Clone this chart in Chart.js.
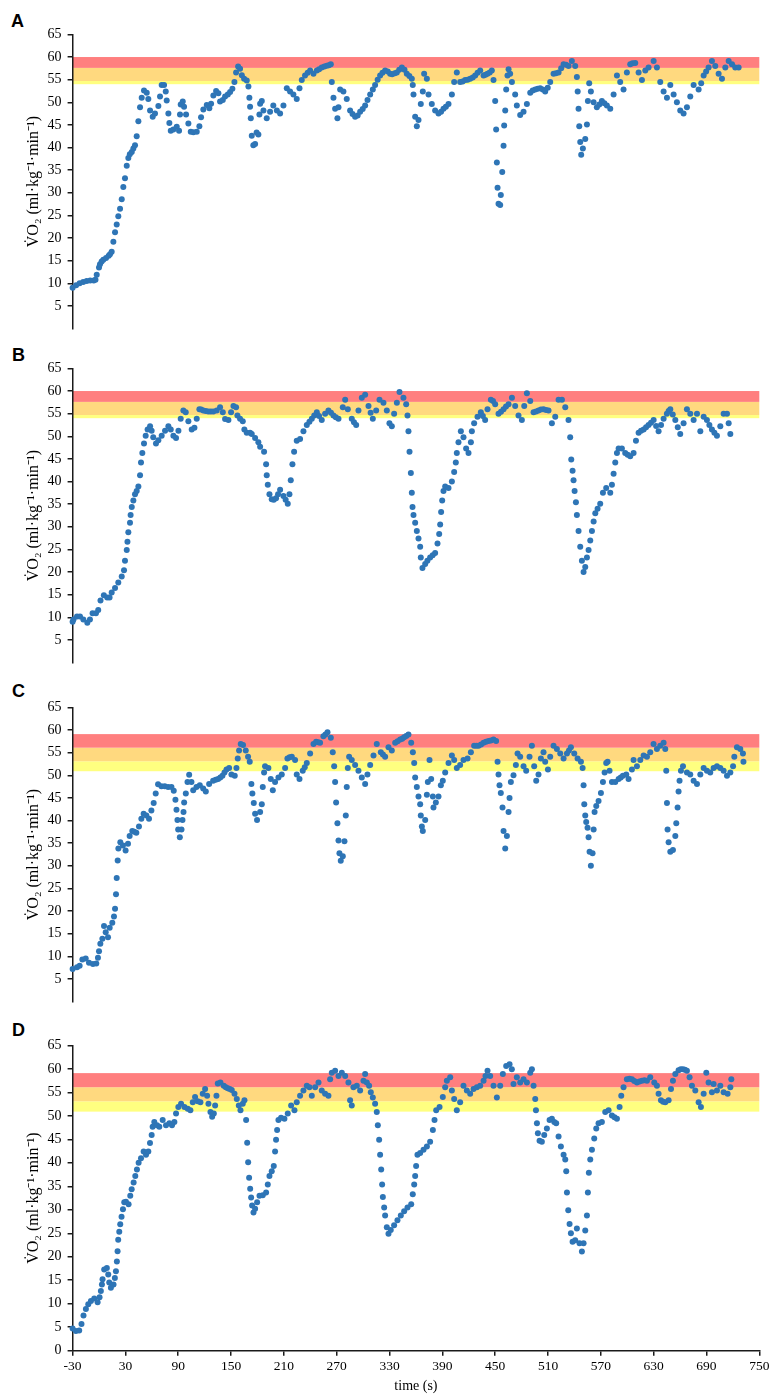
<!DOCTYPE html>
<html>
<head>
<meta charset="utf-8">
<script src="https://cdn.jsdelivr.net/npm/chart.js@4.4.1/dist/chart.umd.min.js"></script>
<style>
  html, body { margin:0; padding:0; background:#fff; }
  body { width:774px; height:1396px; position:relative; overflow:hidden; }
  canvas { position:absolute; left:0; }
  .lbl { position:absolute; font-family:"Liberation Sans", Arial, sans-serif; font-weight:bold; font-size:18px; line-height:18px; color:#000; }
</style>
</head>
<body>
<div class="lbl" style="left:11px; top:12px;">A</div>
<div class="lbl" style="left:12px; top:346px;">B</div>
<div class="lbl" style="left:12px; top:682px;">C</div>
<div class="lbl" style="left:12px; top:1021px;">D</div>
<canvas id="cA" width="774" height="323" style="top:20px"></canvas>
<canvas id="cB" width="774" height="323" style="top:354px"></canvas>
<canvas id="cC" width="774" height="323" style="top:693px"></canvas>
<canvas id="cD" width="774" height="365" style="top:1031px"></canvas>
<script>
// ---------- data (time in s, VO2 in ml·kg-1·min-1) ----------
const xTicks = [-30, 30, 90, 150, 210, 270, 330, 390, 450, 510, 570, 630, 690, 750];
const yTicks = [5, 10, 15, 20, 25, 30, 35, 40, 45, 50, 55, 60, 65];
const yTicksD = [0, 5, 10, 15, 20, 25, 30, 35, 40, 45, 50, 55, 60, 65];
// band edges: yellow bottom, orange bottom, red bottom, red top
const bandsAB = [54.0, 54.7, 57.6, 60.0];
const bandsCD = [50.9, 53.1, 56.1, 59.1];

const tA = [
-30,-26,-22,-18,-14,-10,-6,-4,-2.6,0,1.1,3,4.9,8,11,12.5,14.4,16.3,18.2,20.1,21.9,23.9,25.8,27.6,29.5,31.5,33.3,35,37.2,39,40.9,42.8,44.7,46.6,48.5,51.1,54.2,56,58,
61,63.6,67.4,69.3,71.2,73.9,75.8,76.9,78.8,79.9,81.5,84.5,88.3,90.9,92,92.8,95.1,96.6,98.9,101.5,104.2,107.2,111,114,115.9,118.5,122.4,125.3,127.3,129.9,133,135.6,137.5,140.6,143.2,146.3,148.9,151.5,153.8,155.7,158,160.2,162.2,164.8,167.8,169.7,170.8,171.6,172.4,173.5,175.3,177.3,179,181,182.2,183,
184.9,186.8,190.5,194.3,198,202,205.7,209.5,213.3,217,220.8,224.6,227.7,230.3,234,237,239.8,243.6,247.4,250,253,256,258.7,261,263.3,264.4,266.3,268.2,270.8,272,273.9,277.6,281.4,285.2,288,290.9,293.8,296.6,299.5,302.3,305,308,311,313.6,316.5,319.3,322,325,328,330.7,333,336,338.3,341,344,347,349.6,352.5,355.3,
356.4,357.2,359.1,361,362.9,365.5,367.8,369.3,372.4,374.3,378,381.8,385.6,388.5,391.3,394,397,400.8,403.4,406.4,410.2,413,415.9,418.7,421.6,424.5,427.3,430,433,436.8,439,441.3,443.8,446.2,448.1,
450,451.1,451.9,452.7,453.8,455.7,456.4,458,459.5,460.2,461.4,462.5,464,465.2,467,469,472.7,474.6,478.4,482.2,486,489.8,492.6,495.5,498.3,501.1,504,506.8,509.7,512.5,516.3,519,522,525,527.7,530.5,533.3,537.1,540.9,
542.8,543.7,544.7,545.5,546.6,547.7,549.6,552.3,554.2,555.3,556.8,558.7,561.8,565.5,568.3,571.2,574,576.9,580.7,584.5,588.3,592,595.8,599.6,603.4,606,609.1,612.9,616.7,620.5,624.2,630,633.7,637.5,641.3,645.1,648.9,652.7,656.4,660.2,664,667.8,671.6,675.4,681.1,684,686.8,689.6,692.4,696.2,700,703.8,707.6,711.4,715.2,719,722.7,726.5];
const vA = [
9.0,9.6,10.0,10.3,10.5,10.6,10.6,10.8,11.9,13.5,14.2,14.8,15.2,15.6,16.1,16.4,17.0,19.2,21.3,23.0,24.8,26.5,28.6,31.3,33.2,36.0,37.7,38.5,39.0,39.8,40.5,42.5,45.8,48.9,51.0,52.6,52.1,50.7,48.2,
46.8,47.5,49.2,51.3,53.8,53.8,52.4,50.4,47.5,45.4,43.7,44.0,44.6,43.7,47.3,49.5,50.2,49.0,47.3,45.3,43.5,43.4,43.5,44.7,46.7,48.4,49.4,48.7,49.7,51.5,52.5,52.0,50.2,50.5,51.3,51.7,52.3,53.0,54.5,56.6,57.9,57.4,56.0,55.2,54.8,53.5,51.0,49.0,46.5,42.6,40.5,40.8,43.3,42.9,47.3,49.7,
50.3,48.2,46.5,47.9,49.3,48.2,47.5,49.3,53.1,52.4,51.7,50.7,53.1,54.9,55.9,56.5,57.0,56.3,57.0,57.3,57.7,57.9,58.1,58.2,58.4,54.5,51.0,48.6,46.5,48.9,52.8,52.4,50.7,48.2,47.4,46.8,47.1,47.9,48.5,49.3,50.5,51.7,52.8,53.8,55.0,55.9,56.5,57.0,56.8,56.3,56.2,56.4,56.6,57.2,57.7,57.2,56.3,55.8,55.2,
53.8,51.7,46.8,44.7,46.1,49.6,52.4,56.3,55.2,51.7,49.6,48.2,47.5,47.9,48.6,49.0,49.6,51.7,54.5,56.6,54.5,54.6,54.9,55.0,55.2,55.5,55.9,56.5,57.0,55.9,56.1,56.3,56.6,57.0,54.9,
50.3,44.0,36.7,31.1,27.6,27.3,29.5,34.6,40.4,44.9,48.2,52.8,55.9,57.3,56.3,54.5,51.7,49.3,47.2,47.9,49.6,52.1,52.6,52.8,53.0,53.1,52.8,52.4,53.2,54.5,56.3,56.4,56.6,57.5,58.4,58.3,58.0,59.1,58.0,
55.6,52.4,48.6,44.7,41.2,38.4,39.8,41.9,45.1,50.3,54.2,52.4,50.0,48.9,49.5,50.3,49.8,49.3,48.6,51.7,55.9,54.5,52.8,56.6,58.4,58.6,58.7,56.6,54.9,57.0,57.7,59.1,57.7,54.5,52.4,51.0,53.8,51.7,50.0,48.2,47.5,48.9,51.3,53.8,52.8,54.2,55.9,56.8,57.7,59.1,58.0,56.3,55.2,57.7,59.1,58.4,57.7,57.7];

const tB = [
-30,-29,-25,-21.6,-17.8,-13.3,-10.3,-7.3,-3.5,-0.9,1.7,5.5,9.3,12,14.4,18.2,21.9,25.8,28.4,29.5,31.5,32.3,33.3,35.2,35.9,37.2,39,40.9,42.8,44.7,46.6,47.7,49.2,51.1,53,55.2,58,
59.8,61.6,64.7,67.4,71.2,75,78.8,81.5,84.5,87.5,90.2,92.8,95.8,98.5,101.5,105.3,108.4,111,114,116,118.5,121.3,124.2,127,129.9,133.7,137.5,140.6,143.2,147,150,152.7,155.7,157.2,160.2,163.3,165.1,167.8,171.6,173.5,177.3,181,183,187.5,
189.8,190.5,191.7,193.6,196.2,198.5,201.1,203.4,205.7,209.5,212,214.4,216.3,217.8,219.7,221.6,224.6,228.4,232.2,236,239,241.7,244.5,247.4,250,253,256.8,260.6,263.5,266.3,269,272,276.9,279.6,282.6,287.1,289.6,292.1,294.7,298.5,302.3,306.1,308.5,311,314.8,318.6,323.1,326.9,329.9,332.6,335.2,338.3,341.3,345.8,348.9,
350.4,351.5,352.7,354.2,355.3,356.1,357.2,359.1,361,362.9,364.8,365.5,367.4,370.5,373,376.1,379,381.8,384.5,386.4,387.5,388.6,389.8,391.3,393.2,397,400.8,403.4,405.3,406.4,408.3,411,414,417,419.7,422.4,423.5,426.1,429.9,433.7,436,438.6,441.3,445.1,447.5,450,453.8,456.6,459.5,462.3,465.2,469,472.7,476.5,480.3,483,486,489.8,493.6,496.4,499.2,502,504.9,507.8,510.6,514.4,518.2,522,525.8,529.6,
533.3,535.2,536.4,537.9,539,540.2,541.7,542.8,544.7,546.6,548.5,550.4,552.3,554.2,556.1,558,559.9,561.8,563.7,566.3,569.3,572.4,576.1,580.7,582.6,584.5,586.4,588.3,590.2,593.9,597.7,600.5,603.4,607.2,609.9,612.9,615.7,618.6,621.4,624.2,627,630,632.8,635.6,638.4,641.3,645,647,648.9,651.7,654.6,657.4,660.2,664,667.8,671.6,675.4,679.2,683,686.8,690.5,693.3,696.2,699,701.9,705.7,709.5,713.3,715.2,717.1];
const vB = [
9.0,9.5,10.2,10.2,9.5,8.8,9.5,10.9,10.9,11.6,13.7,14.9,14.4,14.4,15.5,16.5,17.7,19.0,20.4,22.5,24.9,26.7,28.8,30.9,32.6,34.4,35.8,37.2,37.9,38.9,41.4,44.2,46.3,48.4,50.1,51.5,52.2,
51.2,49.8,48.4,49.1,50.1,51.2,52.2,51.5,50.1,49.6,51.2,53.9,55.7,55.3,53.3,51.5,51.9,53.9,56.0,55.9,55.7,55.6,55.5,55.5,55.5,55.7,56.4,55.3,53.8,53.6,55.3,56.7,56.4,54.6,53.9,53.3,51.5,50.8,50.8,50.5,49.6,48.7,47.7,46.6,
43.8,41.4,39.3,37.2,36.1,36.0,36.3,37.2,38.2,36.8,36.0,35.1,37.2,40.3,43.8,46.6,49.0,49.4,51.1,52.5,53.2,53.9,54.6,55.3,54.5,53.6,55.0,55.7,55.2,54.6,54.2,53.9,56.4,58.1,56.0,53.9,53.1,52.5,55.7,58.5,59.2,56.7,55.2,53.9,55.7,58.1,57.4,55.7,52.9,52.2,55.0,57.4,59.8,58.5,57.1,
54.6,51.1,46.6,41.9,37.5,34.4,32.6,30.9,29.1,27.4,25.6,23.2,20.9,21.8,22.5,23.2,23.7,24.2,26.3,28.4,30.5,33.3,35.8,37.9,38.9,38.6,40.0,42.1,44.2,46.3,48.7,51.1,49.8,47.3,46.3,48.7,51.1,52.9,54.3,55.3,54.5,53.6,56.0,58.1,57.8,57.1,55.0,55.4,56.0,56.6,57.1,58.5,56.7,54.6,53.6,56.7,59.5,57.8,55.3,55.5,55.7,55.9,56.0,55.8,55.7,52.9,54.3,58.1,58.1,56.4,
53.6,49.8,44.9,42.4,40.3,37.9,35.4,32.6,29.1,25.6,22.5,20.0,21.1,23.2,24.9,27.0,29.1,31.2,33.0,34.0,35.1,37.5,38.6,37.5,39.3,41.7,44.2,46.3,47.3,47.3,46.3,45.9,45.6,46.3,49.0,50.8,51.2,51.5,52.0,52.5,53.0,53.6,52.3,51.1,52.5,53.9,55.0,55.6,56.0,54.8,53.6,52.0,50.5,52.9,56.0,55.0,53.6,55.0,51.1,54.3,53.6,52.5,51.5,50.8,50.1,52.2,55.0,55.0,52.9,50.5];

const tC = [
-30,-25,-22,-18.9,-15.1,-11.4,-6.9,-3.1,-1.2,0,1.5,3.8,5.7,7.6,10.2,12.1,15.1,17,18.2,19.3,20.1,21.2,22,24.2,27.2,30.2,32.9,34.8,37.8,40,42.4,45.4,48.1,50.7,53.8,56.8,59.5,62.1,64.4,67.1,70.9,74.7,78.5,82.3,84.9,86.8,88,89.1,89.9,91.8,93.7,94.8,96,96.7,98.6,100.5,
102.4,105,107,110.7,114.5,118.3,121.3,125.1,129.6,132.5,135.3,137.8,140.2,142.5,144.8,147.8,150.4,154.2,156.1,157.6,159.1,161,163.6,166.7,169.3,171.2,173.1,174.2,175.8,177.3,179.5,183,184.9,186,187.5,188.6,192.4,195.1,197.4,200,203.8,207.6,211.4,214,216.5,219,222.7,224.6,227.7,231.4,233.7,236,239.8,243.6,246.6,248.9,251.1,254.9,257.2,259.5,263.3,
265.5,267.1,268.2,269.3,270.8,272,273.1,274.6,276.9,278.8,280.3,281.4,282.6,284.1,287.1,290.9,294.7,298.5,302.3,304.9,308,311.8,315.5,320.1,322.5,325,328.8,332.6,336.4,339.2,342.1,344.4,346.6,349,351.5,354.6,356.5,358,359.1,361,362.9,364.8,365.5,366.7,367.8,370.5,372.4,373.5,375.4,377.3,379.2,379.9,382.6,385.6,388.3,390.5,393.2,397,400.8,403.4,406.4,410.2,414,418.6,422.4,426.1,428.6,431.1,434,436.8,439.6,442.4,445.2,448.1,451.1,
452.7,453.8,454.9,456.4,458.3,459.5,461.4,463.3,465.2,466.3,467.8,470.8,473.5,475.4,478.4,482.2,485.2,489,491.7,494.3,496.6,499.2,501.9,504.9,506.8,509.9,512.5,516.3,520.1,523.9,527.7,531.5,533.8,536,539.8,543.6,547.4,549.3,550.4,551.2,552.3,553.4,554.9,556.1,557.2,558.7,560.6,561.8,562.9,564.8,567.4,570.1,572.4,574.3,576.1,577.7,579.9,582.6,586.4,590.2,592.6,595.1,598.9,601.5,605.3,607.2,611,614.8,618.6,622.4,626.1,629.9,633.7,637.5,641.3,643.2,
644.3,645.1,645.8,647,648.9,651.9,654.6,655.7,657.2,658.3,659.4,661,663.3,667.8,671.6,675.4,679.2,683,686.8,690.5,694.3,698.1,701.9,705.7,709.5,713.3,717.1,720.2,721.6,724.6,728.4,731.4,732];
const vC = [
7.2,7.6,7.9,9.3,9.5,8.6,8.3,8.4,9.7,11.1,12.8,13.9,16.7,15.3,14.2,16.3,17.4,18.8,20.5,23.7,27.3,31.2,33.8,35.2,34.5,33.4,34.9,36.6,37.7,37.5,37.3,38.7,40.4,41.5,41.1,40.4,42.2,43.9,46.0,48.0,47.6,47.6,47.4,47.4,46.6,44.6,42.4,40.1,38.0,36.3,38.0,40.1,41.9,44.0,46.0,48.5,
50.1,48.5,46.7,47.4,47.8,47.1,46.4,48.1,48.8,49.0,49.2,49.5,49.9,50.6,51.3,51.6,50.2,49.9,51.6,53.7,55.5,56.9,56.7,55.5,54.1,53.0,48.1,46.0,43.9,41.5,40.1,41.9,43.6,47.4,50.6,52.0,51.6,49.2,46.7,48.5,49.5,50.2,51.6,53.7,54.0,54.1,53.4,50.2,49.2,51.0,51.8,52.7,54.8,56.9,57.4,57.3,57.2,58.6,59.0,59.5,58.3,
55.1,52.0,48.5,44.0,39.4,35.6,32.8,31.1,32.1,35.4,41.1,47.4,51.6,54.1,53.4,52.3,51.0,49.5,48.1,50.2,52.3,54.4,56.9,55.1,54.6,54.1,56.2,55.5,57.2,57.5,57.9,58.1,58.4,58.7,59.0,57.2,55.1,52.7,49.5,47.4,45.3,43.6,41.1,38.7,37.7,40.1,45.7,48.5,53.4,49.2,45.3,42.9,44.0,45.3,47.8,48.8,50.6,52.7,54.4,53.4,51.6,52.3,53.4,53.7,55.1,56.5,56.5,56.5,56.8,57.2,57.4,57.6,57.7,57.9,57.6,
53.0,50.2,47.8,46.1,42.9,37.7,33.8,36.6,41.9,45.0,48.5,50.0,52.3,54.8,54.1,52.0,51.0,54.1,56.5,52.0,48.8,50.2,53.7,55.1,53.0,51.3,54.1,56.5,55.8,54.8,53.7,54.8,55.5,56.2,54.8,53.7,53.0,51.6,47.8,43.6,41.1,39.7,38.4,36.3,33.1,30.0,32.8,38.0,41.9,43.2,44.3,46.1,48.5,50.6,52.7,53.0,51.0,48.5,48.5,49.2,49.5,49.9,50.2,49.2,51.3,53.4,52.0,53.4,54.4,54.1,55.1,56.9,55.8,56.5,57.2,55.8,
51.0,43.9,38.0,35.2,33.1,33.5,36.6,39.4,42.9,46.4,48.8,51.0,52.0,50.6,50.2,48.8,48.1,50.2,51.6,51.0,50.6,51.6,52.0,51.6,51.0,49.9,50.6,52.0,54.1,56.2,55.8,54.8,53.0];

const tD = [
-30,-26.3,-22.5,-19.9,-17.6,-14.9,-12.2,-9.2,-5.4,-1.6,0.6,2.1,3.3,4,5.9,8.9,10.5,11.6,13.5,16.5,18,19.2,20.3,21.1,21.8,23,24.1,25.6,27.2,28.7,30.6,33.6,35.5,37.1,39.3,41.2,43.1,45,47.7,50.7,53.4,56,57.9,59.8,60.9,62.8,
65.9,68.5,72.3,76.1,79.9,82.9,85.6,87.5,90.1,93.2,97,100.8,103.8,106.5,109.1,112.1,115.2,117.8,120.5,122.8,124.3,126.6,128.5,130.4,131.9,133.4,134.9,137.9,141.7,144,146.3,148.5,150.8,153.9,156.5,158.8,160.7,163.3,165.2,
167.1,168.3,169.4,170.5,171.7,172.8,173.9,175.5,177.3,179.6,182.3,186,189.8,191.7,193.6,196.2,198.5,200,201.1,202.3,203.8,206.8,210.6,214.4,218.2,222,224.6,228.4,232.2,236,239,241.7,245.5,249.3,253,256.8,260.6,262.5,264.4,268.2,272,275.8,279.6,283.3,285.2,287.1,289,292.8,296.6,300.4,302.3,304.2,306.8,308.7,311,313.6,315.5,
316.7,318.2,319.3,320.5,321.6,322.4,323.9,325,326.9,328.8,331.4,335.2,339,342.8,346.6,350.4,354.6,356.4,358,359.1,360.2,361.7,364.8,368.6,372.4,376.1,379.2,381.1,383,386.8,390.5,393.2,395.1,398.9,400.8,403.4,406.4,410.2,414,417.8,421.6,425.4,429.2,433,436.8,439,441.3,444.3,448.1,451.9,455.7,458.7,462.5,466.3,468.9,470.8,474.6,478.4,482.2,486,489.8,491.7,493.6,
495.5,496.3,497.4,498.5,500.4,503,505.7,508.7,511.8,514.4,517.1,519.3,522,524.6,527.7,529.6,530.7,531.5,533,534.5,536,537.9,540.9,542.8,545.8,548.5,550.4,552.3,554.2,555.3,556.4,558,559.9,562.5,564.8,567.4,571.2,575,578.8,582.6,
585.5,588.3,591.3,593.2,595.8,599.6,602.5,605.3,608,611,613.8,616.7,619.5,622.4,626.1,630.7,633.7,635.6,638.3,640.7,643.2,647,649.7,651.9,654.6,658.3,660.8,663.3,665.5,667.8,670.8,673.5,677.3,681.1,683.7,686.8,689.8,692.4,696.2,698.1,701.9,705.7,709.5,714,717.1,718.2];
const vD = [
4.7,4.2,4.3,5.7,7.5,8.9,9.9,10.6,11.1,10.3,11.4,12.7,14.1,15.2,17.3,17.6,16.2,14.5,13.4,14.1,15.5,16.9,19.0,21.2,23.6,25.3,26.9,28.5,30.1,31.6,31.7,31.2,33.0,34.4,35.8,37.2,38.6,40.0,41.0,42.4,41.7,42.4,44.2,45.9,47.7,48.7,
48.0,47.7,49.1,48.0,48.4,48.0,48.7,50.5,51.9,52.6,51.9,51.5,51.2,52.9,54.0,53.1,52.9,54.7,55.7,54.3,52.6,50.8,49.8,50.5,52.2,54.3,56.9,57.1,56.4,56.1,55.9,55.7,55.5,54.7,53.6,52.2,51.2,52.6,53.3,
49.1,44.3,40.1,36.8,34.5,32.6,30.9,29.4,30.2,31.6,33.0,33.1,33.7,35.4,37.2,38.2,39.3,42.4,44.9,47.0,49.1,49.6,49.4,50.5,52.2,51.2,52.9,54.3,55.4,56.4,56.1,54.3,56.1,57.1,55.4,54.7,54.3,57.8,59.2,59.6,58.5,59.2,58.5,57.1,53.3,52.2,56.1,56.4,55.4,57.5,58.9,57.1,56.4,55.0,53.9,52.6,50.8,
48.0,44.9,41.7,38.6,35.4,32.7,30.5,28.8,26.3,24.9,25.7,26.7,27.8,28.8,29.7,30.5,31.2,33.3,35.4,37.2,39.3,41.7,42.1,42.8,43.5,44.5,47.0,49.1,51.2,51.9,54.0,56.1,57.5,58.2,55.4,53.6,51.2,52.9,56.4,55.4,54.7,55.7,56.1,56.4,57.5,58.5,59.6,58.5,56.4,53.9,56.4,58.9,60.6,61.0,59.9,56.8,58.2,57.1,57.8,57.1,59.2,59.9,56.4,
53.6,51.2,48.4,46.3,44.7,44.5,45.9,47.3,49.1,49.4,48.7,48.4,45.6,43.5,41.7,40.7,38.2,33.7,29.9,27.0,25.0,23.2,23.5,26.0,22.9,21.1,22.9,25.6,28.8,33.7,37.9,40.7,42.8,45.2,47.3,48.4,48.7,50.8,51.2,50.1,
49.7,49.4,51.9,54.3,56.1,57.8,57.9,57.8,57.4,57.1,57.3,57.5,57.6,57.5,58.2,57.1,56.4,54.7,53.3,53.0,52.9,53.3,55.7,57.5,58.9,59.7,59.9,59.9,59.8,59.6,58.2,56.4,55.4,52.9,51.9,54.7,59.2,57.1,55.0,56.8,55.4,56.4,55.0,54.7,56.1,57.8];

// ---------- styles ----------
const DOT = '#2E75B6';
const AXIS = '#1a1a1a';
const BAND_COLORS = ['#FFFF80', '#FFD97F', '#FF7F7F']; // yellow, orange, red (bottom to top)
const SERIF = '"Liberation Serif", "Times New Roman", serif';
const YTITLE = 'V\u0307O\u2082 (ml\u00B7kg\u207B\u00B9\u00B7min\u207B\u00B9)';

const bandPlugin = {
  id: 'bands',
  beforeDraw(chart, args, opts) {
    const { ctx, scales: { x, y } } = chart;
    const e = opts.edges;
    const x0 = x.getPixelForValue(-30), x1 = x.getPixelForValue(750);
    ctx.save();
    for (let i = 0; i < 3; i++) {
      const top = y.getPixelForValue(e[i + 1]);
      const bot = y.getPixelForValue(e[i]);
      ctx.fillStyle = BAND_COLORS[i];
      ctx.fillRect(x0, top, x1 - x0, bot - top);
    }
    ctx.restore();
  }
};

function makeChart(id, t, v, edges, showX, yt, padTop) {
  const pts = t.map((xv, i) => ({ x: xv, y: v[i] }));
  return new Chart(document.getElementById(id), {
    type: 'scatter',
    data: { datasets: [{ data: pts, pointRadius: 3.0, pointHoverRadius: 3.0, backgroundColor: DOT, borderWidth: 0, clip: 6 }] },
    options: {
      responsive: false, animation: false, devicePixelRatio: 1,
      events: [],
      layout: { padding: { top: padTop, right: 14.7, bottom: showX ? 0 : 3, left: 0 } },
      plugins: { legend: { display: false }, tooltip: { enabled: false }, bands: { edges } },
      scales: {
        x: {
          type: 'linear', display: showX, min: -30, max: 750,
          afterBuildTicks: s => { s.ticks = xTicks.map(value => ({ value })); },
          afterFit: s => { s.height = showX ? 45.3 : 0; },
          ticks: { font: { family: SERIF, size: 13.5 }, color: '#000', padding: 3, maxRotation: 0, autoSkip: false },
          grid: { drawOnChartArea: false, tickLength: 5, color: AXIS, lineWidth: 1.5 },
          border: { display: true, color: AXIS, width: 1.5 },
          title: { display: true, text: 'time (s)', font: { family: SERIF, size: 14 }, color: '#000', padding: { top: 0, bottom: 1.6 } }
        },
        y: {
          type: 'linear', min: 0, max: 65,
          afterBuildTicks: s => { s.ticks = yt.map(value => ({ value })); },
          afterFit: s => { s.width = 72.6; },
          ticks: { font: { family: SERIF, size: 14 }, color: '#000', padding: 6, autoSkip: false },
          grid: { drawOnChartArea: false, tickLength: 5, color: AXIS, lineWidth: 1.5 },
          border: { display: true, color: AXIS, width: 1.5 },
          title: { display: true, text: YTITLE, font: { family: SERIF, size: 16 }, color: '#000', padding: { top: 24.4, bottom: 0 } }
        }
      }
    },
    plugins: [bandPlugin]
  });
}

makeChart('cA', tA, vA, bandsAB, false, yTicks, 10);
makeChart('cB', tB, vB, bandsAB, false, yTicks, 10);
makeChart('cC', tC, vC, bandsCD, false, yTicks, 10);
makeChart('cD', tD, vD, bandsCD, true, yTicksD, 9.7);
</script>
</body>
</html>
